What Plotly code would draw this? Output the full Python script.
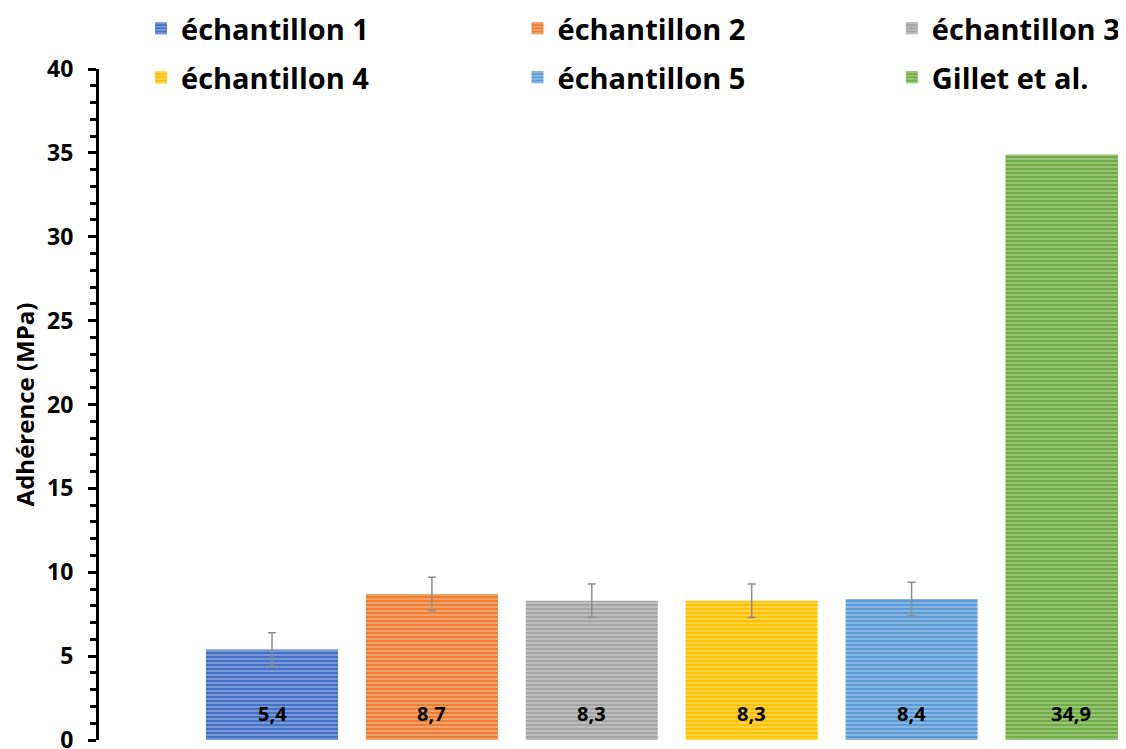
import plotly.graph_objects as go

# ---- data ----
categories = ["échantillon 1", "échantillon 2", "échantillon 3",
              "échantillon 4", "échantillon 5", "Gillet et al."]
values = [5.4, 8.7, 8.3, 8.3, 8.4, 34.9]
errors = [1.0, 1.0, 1.0, 1.0, 1.0, None]
colors = ["#4472C4", "#ED7D31", "#A5A5A5", "#FFC000", "#5B9BD5", "#70AD47"]
y_ticks = [0, 5, 10, 15, 20, 25, 30, 35, 40]

FONT = "Open Sans"
fig = go.Figure()

# legend placement (3 columns x 2 rows)
leg_x = [0.0409, 0.4075, 0.772]
leg_y = [1.0984, 1.0253]

for i, (name, v, e, c) in enumerate(zip(categories, values, errors, colors)):
    lg = "legend" if i == 0 else f"legend{i+1}"
    fig.add_trace(go.Bar(
        x=[i], y=[v], name=name, width=0.8255,
        marker=dict(color=c, line=dict(width=0),
                    pattern=dict(shape="-", bgcolor=c, fgcolor="#FFFFFF",
                                 fgopacity=0.45, size=4, solidity=0.3)),
        error_y=dict(type="data", array=[e] if e is not None else [0],
                     visible=e is not None, color="#8C8C8C",
                     thickness=1.5, width=4),
        legend=lg, showlegend=True,
    ))

legends = {}
for i in range(6):
    key = "legend" if i == 0 else f"legend{i+1}"
    legends[key] = dict(
        x=leg_x[i % 3], y=leg_y[i // 3], xanchor="left", yanchor="top",
        orientation="h", bgcolor="rgba(0,0,0,0)", borderwidth=0,
        font=dict(family=FONT, size=29, color="#000000", weight="bold"),
    )

# value labels inside bars near the base
for i, v in enumerate(values):
    fig.add_annotation(
        x=i, y=0, xref="x", yref="y", text=f"<b>{v:.1f}</b>".replace(".", ","),
        showarrow=False, yanchor="middle", yshift=27,
        font=dict(family=FONT, size=20, color="#000000"),
    )

fig.update_layout(
    width=1118, height=749,
    margin=dict(l=91, r=0, t=61, b=17, autoexpand=False),
    paper_bgcolor="white", plot_bgcolor="white",
    barmode="overlay",
    xaxis=dict(range=[-1.082, 5.341], showline=False, showticklabels=False,
               showgrid=False, zeroline=False, ticks=""),
    yaxis=dict(range=[0, 40], tickvals=y_ticks, ticktext=[str(t) for t in y_ticks],
               showgrid=False, zeroline=False,
               showline=True, linecolor="#000000", linewidth=3,
               ticks="outside", ticklen=8, tickwidth=3, tickcolor="#000000",
               ticklabelstandoff=10, ticklabeloverflow="allow",
               minor=dict(dtick=1, ticks="outside", ticklen=6, tickwidth=2.5,
                          tickcolor="#000000", showgrid=False),
               tickfont=dict(family=FONT, size=23, color="#000000", weight="bold"),
               title=dict(text="Adhérence (MPa)", standoff=22,
                          font=dict(family=FONT, size=24, color="#000000", weight="bold"))),
    **legends,
)

fig.write_html("out.html")
